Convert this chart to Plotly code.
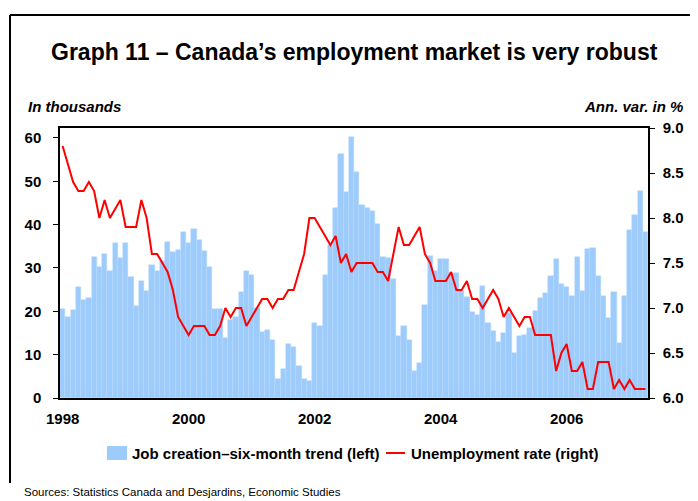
import plotly.graph_objects as go

# Monthly data, Jan 1998 .. Apr 2007
job_creation = [
    20.5, 18.6, 20.3, 25.5, 22.6, 23.0, 32.5, 30.3, 33.2, 29.2, 35.8, 32.2,
    35.8, 28.0, 21.3, 27.0, 24.8, 30.7, 29.2, 31.5, 35.9, 33.6, 34.2, 38.2,
    35.8, 39.0, 36.5, 33.9, 30.3, 20.5, 20.5, 13.8, 18.0, 18.8, 24.5, 29.2,
    28.4, 20.7, 15.3, 15.7, 13.4, 4.3, 6.8, 12.4, 11.8, 7.5, 4.3, 4.0,
    17.2, 16.6, 28.4, 35.3, 43.9, 56.3, 47.6, 60.2, 52.1, 44.5, 43.9, 43.2,
    40.2, 32.5, 32.2, 27.4, 14.2, 16.5, 13.3, 6.3, 8.1, 21.5, 32.8, 29.2,
    32.0, 32.0, 28.8, 28.8, 24.8, 23.4, 19.9, 19.2, 25.9, 17.2, 15.5, 13.0,
    14.9, 19.5, 10.3, 14.2, 14.5, 16.2, 20.1, 23.0, 24.2, 28.2, 32.1, 26.3,
    25.7, 23.5, 32.6, 24.8, 34.4, 34.6, 28.2, 23.5, 18.4, 24.5, 12.6, 23.5,
    38.8, 42.2, 47.8, 38.4,
]
unemployment = [
    8.8, 8.6, 8.4, 8.3, 8.3, 8.4, 8.3, 8.0, 8.2, 8.0, 8.1, 8.2,
    7.9, 7.9, 7.9, 8.2, 8.0, 7.6, 7.6, 7.5, 7.4, 7.2, 6.9, 6.8,
    6.7, 6.8, 6.8, 6.8, 6.7, 6.7, 6.8, 7.0, 6.9, 7.0, 7.0, 6.8,
    6.9, 7.0, 7.1, 7.1, 7.0, 7.1, 7.1, 7.2, 7.2, 7.4, 7.6, 8.0,
    8.0, 7.9, 7.8, 7.7, 7.8, 7.5, 7.6, 7.4, 7.5, 7.5, 7.5, 7.5,
    7.4, 7.4, 7.3, 7.6, 7.9, 7.7, 7.7, 7.8, 7.9, 7.6, 7.5, 7.3,
    7.3, 7.3, 7.4, 7.2, 7.2, 7.3, 7.1, 7.1, 7.0, 7.1, 7.2, 7.1,
    6.9, 7.0, 6.9, 6.8, 6.9, 6.9, 6.7, 6.7, 6.7, 6.7, 6.3, 6.5,
    6.6, 6.3, 6.3, 6.4, 6.1, 6.1, 6.4, 6.4, 6.4, 6.1, 6.2, 6.1,
    6.2, 6.1, 6.1, 6.1,
]
year_labels = ["1998", "2000", "2002", "2004", "2006"]
year_tick_months = [0, 24, 48, 72, 96]
months = list(range(len(job_creation)))

FONT = "Liberation Sans, Arial, sans-serif"

# page offset of the figure (browser body margin)
OFF = 8
# plot area in page pixels
L, R, T, B = 60, 648, 128, 398
W, H = 698 - OFF, 501 - OFF


def px(x):
    return (x - L) / (R - L)


def py(y):
    return (B - y) / (B - T)


fig = go.Figure()
fig.add_trace(go.Bar(
    x=months, y=job_creation,
    marker=dict(color="#9DCBFB", line=dict(width=0.5, color="#B4D8FC")),
    name="Job creation–six-month trend (left)", yaxis="y",
))
fig.add_trace(go.Scatter(
    x=months, y=unemployment, mode="lines", line=dict(color="#FF0000", width=2),
    name="Unemployment rate (right)", yaxis="y2",
))

tickfont = dict(family=FONT, size=15, color="black", weight="bold")

fig.update_layout(
    width=W, height=H,
    margin=dict(l=L - OFF, r=(OFF + W) - R, t=T - OFF, b=(OFF + H) - B, pad=0),
    paper_bgcolor="white", plot_bgcolor="white",
    showlegend=False, bargap=0,
    xaxis=dict(
        range=[-0.5, len(months) - 0.5], tickvals=year_tick_months, ticktext=year_labels,
        showline=True, linecolor="black", linewidth=1.5, mirror=True,
        showgrid=False, zeroline=False, ticks="", tickfont=tickfont,
        ticklabelstandoff=6,
    ),
    yaxis=dict(
        range=[0, 62.3], tickvals=[0, 10, 20, 30, 40, 50, 60],
        showline=True, linecolor="black", linewidth=1.5,
        showgrid=False, zeroline=False, ticks="outside", ticklen=5, tickcolor="black",
        tickfont=tickfont, ticklabelstandoff=9,
    ),
    yaxis2=dict(
        range=[6.0, 9.0], tickvals=[6.0, 6.5, 7.0, 7.5, 8.0, 8.5, 9.0], tickformat=".1f",
        overlaying="y", side="right",
        showline=True, linecolor="black", linewidth=1.5,
        showgrid=False, zeroline=False, ticks="outside", ticklen=5, tickcolor="black",
        tickfont=tickfont, ticklabelstandoff=5,
    ),
)

shapes = [
    # outer frame (left and top)
    dict(type="line", xref="paper", yref="paper", x0=px(10), x1=px(10), y0=py(15), y1=py(483),
         line=dict(color="black", width=2)),
    dict(type="line", xref="paper", yref="paper", x0=px(10), x1=px(700), y0=py(15), y1=py(15),
         line=dict(color="black", width=2)),
    # legend symbols
    dict(type="rect", xref="paper", yref="paper", x0=px(107), x1=px(127), y0=py(446), y1=py(460),
         fillcolor="#9DCBFB", line=dict(width=0)),
    dict(type="line", xref="paper", yref="paper", x0=px(386), x1=px(405), y0=py(453), y1=py(453),
         line=dict(color="#FF0000", width=2)),
]

annotations = [
    dict(text="Graph 11 – Canada’s employment market is very robust", x=px(355), y=py(52),
         xanchor="center", yanchor="middle",
         font=dict(family=FONT, size=23, color="black", weight="bold")),
    dict(text="<i>In thousands</i>", x=px(26), y=py(106), xanchor="left", yanchor="middle",
         font=dict(family=FONT, size=15, color="black", weight="bold")),
    dict(text="<i>Ann. var. in %</i>", x=px(685), y=py(106), xanchor="right", yanchor="middle",
         font=dict(family=FONT, size=15, color="black", weight="bold")),
    dict(text="Job creation–six-month trend (left)", x=px(130), y=py(453), xanchor="left",
         yanchor="middle", font=dict(family=FONT, size=15, color="black", weight="bold")),
    dict(text="Unemployment rate (right)", x=px(409), y=py(453), xanchor="left",
         yanchor="middle", font=dict(family=FONT, size=15, color="black", weight="bold")),
    dict(text="Sources: Statistics Canada and Desjardins, Economic Studies", x=px(22), y=py(492),
         xanchor="left", yanchor="middle", font=dict(family=FONT, size=11.5, color="black")),
]
for a in annotations:
    a.update(xref="paper", yref="paper", showarrow=False)

fig.update_layout(shapes=shapes, annotations=annotations)
fig.write_html("out.html")
